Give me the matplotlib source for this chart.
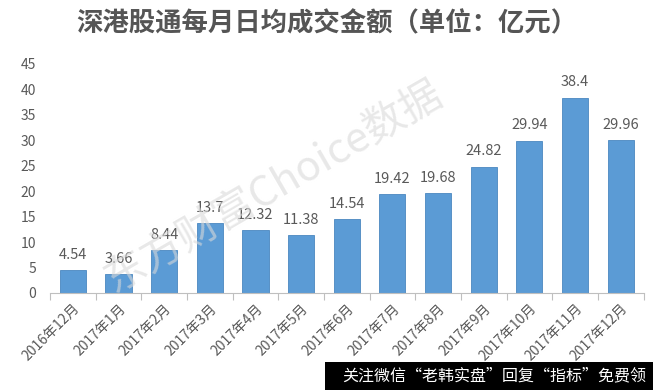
import numpy as np
import matplotlib.pyplot as plt
from matplotlib.patches import Rectangle

plt.rcParams['font.family'] = ['Noto Sans CJK SC', 'DejaVu Sans']

# Data
months = ['2016年12月', '2017年1月', '2017年2月', '2017年3月', '2017年4月',
          '2017年5月', '2017年6月', '2017年7月', '2017年8月', '2017年9月',
          '2017年10月', '2017年11月', '2017年12月']
turnover = [4.54, 3.66, 8.44, 13.7, 12.32, 11.38, 14.54, 19.42, 19.68,
            24.82, 29.94, 38.4, 29.96]
value_labels = ['4.54', '3.66', '8.44', '13.7', '12.32', '11.38', '14.54',
                '19.42', '19.68', '24.82', '29.94', '38.4', '29.96']
y_ticks = [0, 5, 10, 15, 20, 25, 30, 35, 40, 45]

TEXT_GREY = '#595959'
BAR_BLUE = '#5B9BD5'

fig = plt.figure(figsize=(6.53, 3.90), dpi=100)
ax = fig.add_axes([0.0766, 0.249, 0.909, 0.587])

x = np.arange(len(months))
ax.bar(x, turnover, width=0.57, color=BAR_BLUE, edgecolor='#4a87c0', linewidth=0.6)

for xi, v, lab in zip(x, turnover, value_labels):
    ax.text(xi, v + 1.6, lab, ha='center', va='bottom', fontsize=10.5, color=TEXT_GREY)

ax.set_xlim(-0.5, len(months) - 0.5)
ax.set_ylim(0, 45)
ax.set_yticks(y_ticks)
ax.set_yticklabels([str(t) for t in y_ticks], fontsize=10, color=TEXT_GREY)
ax.tick_params(axis='y', length=0, pad=10)

# category labels at bar centres, boundary tick marks on the axis
ax.set_xticks(x)
ax.set_xticklabels(months, rotation=45, ha='right', rotation_mode='anchor',
                   fontsize=10, color=TEXT_GREY)
ax.tick_params(axis='x', length=0, pad=6)
ax.set_xticks(np.arange(len(months) + 1) - 0.5, minor=True)
ax.tick_params(axis='x', which='minor', length=5, color='#bfbfbf', width=0.8)

for side in ['left', 'right', 'top']:
    ax.spines[side].set_visible(False)
ax.spines['bottom'].set_color('#bfbfbf')

fig.text(0.5, 0.94, '深港股通每月日均成交金额（单位：亿元）', ha='center', va='center',
         fontsize=19, fontweight='bold', color='#555555')

# watermark
fig.text(0.42, 0.52, '东方财富Choice数据', ha='center', va='center', rotation=30,
         fontsize=30, color='#d9d9d9', alpha=0.6)

# overlay banner bottom right
fig.patches.append(Rectangle((0.498, 0.0), 0.502, 0.072, transform=fig.transFigure,
                             facecolor='black', edgecolor='none', zorder=5))
fig.text(0.99, 0.036, '关注微信“老韩实盘”回复“指标”免费领', ha='right', va='center',
         fontsize=11.5, color='white', zorder=6)

fig.savefig('out.png', dpi=100)
